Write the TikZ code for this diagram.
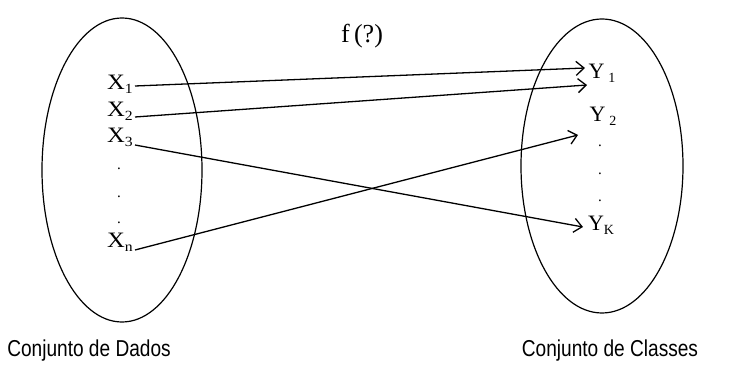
\documentclass[tikz,border=0pt]{standalone}
\usepackage{fontspec}
\setmainfont{Liberation Serif}
\newfontfamily\wideserif[FakeStretch=1.12]{Liberation Serif}
\newfontfamily\labelsans[FakeStretch=0.83]{Liberation Sans}
\usetikzlibrary{arrows.meta}
\newcommand{\sub}[1]{\raisebox{-4pt}{\fontsize{14}{14}\selectfont #1}}
\begin{document}
\begin{tikzpicture}[x=1pt,y=-1pt,
  set/.style={draw, line width=1.2pt},
  xelem/.style={inner sep=1pt, font=\wideserif\fontsize{22}{22}\selectfont},
  yelem/.style={inner sep=1pt, font=\fontsize{22}{22}\selectfont},
  dot/.style={inner sep=0pt, font=\fontsize{15}{15}\selectfont},
  map/.style={line width=1.3pt, -{Straight Barb[length=8pt,width=14pt,line width=1.3pt]}},
  caption/.style={inner sep=0pt, font=\labelsans\fontsize{23}{23}\selectfont}]
\useasboundingbox (0,0) rectangle (732,371);
\draw[set] (122,170) ellipse [x radius=80, y radius=152];
\draw[set] (602,166) ellipse [x radius=81, y radius=147];
\node[xelem] (x1) at (120,84) {X\sub{1}};
\node[xelem] (x2) at (120,111) {X\sub{2}};
\node[xelem] (x3) at (120,137) {X\sub{3}};
\node[dot] (dx1) at (119,169) {.};
\node[dot] (dx2) at (119,197) {.};
\node[dot] (dx3) at (119,223) {.};
\node[xelem] (xn) at (120,242) {X\sub{n}};
\node[yelem] (y1) at (602,73) {Y\,\sub{1}};
\node[yelem] (y2) at (603,116) {Y\,\sub{2}};
\node[dot] (dy1) at (600,146) {.};
\node[dot] (dy2) at (600,174) {.};
\node[dot] (dy3) at (600,201) {.};
\node[yelem] (yk) at (601,225) {Y\sub{K}};
\node[inner sep=0pt, font=\fontsize{26}{26}\selectfont] (f) at (362,36) {f\,(?)};
\node[caption] (cd) at (89,351) {Conjunto de Dados};
\node[caption] (cc) at (610,351) {Conjunto de Classes};
\coordinate (sx1) at (135,86);
\coordinate (sx2) at (135,117);
\coordinate (sx3) at (135,145);
\coordinate (sxn) at (135,250);
\coordinate (ty1a) at (585,68);
\coordinate (ty1b) at (587,85);
\coordinate (ty2) at (578,135);
\coordinate (tyk) at (583,227);
\draw[map] (sx1) -- (ty1a);
\draw[map] (sx2) -- (ty1b);
\draw[map] (sx3) -- (tyk);
\draw[map] (sxn) -- (ty2);
\end{tikzpicture}
\end{document}
